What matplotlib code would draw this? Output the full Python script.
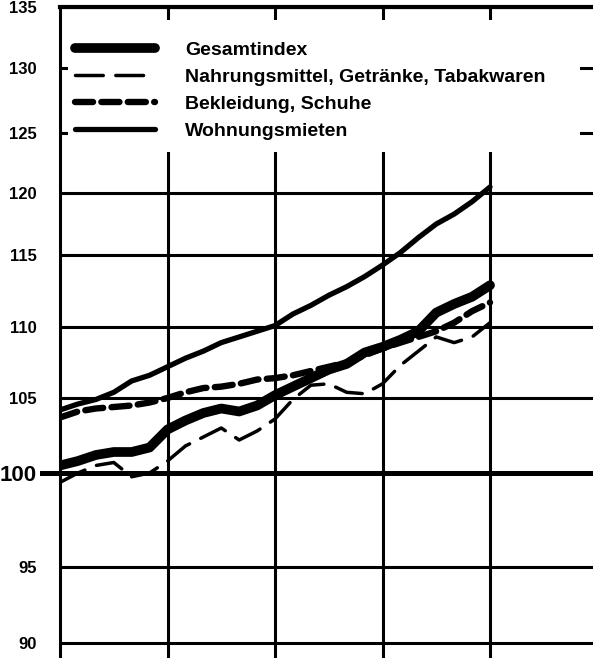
import numpy as np
import matplotlib.pyplot as plt
from matplotlib.patches import Rectangle

plt.rcParams['font.family'] = ['Liberation Sans', 'DejaVu Sans']
plt.rcParams['font.weight'] = 'bold'
plt.rcParams['lines.scale_dashes'] = False

monate = list(range(0, 49, 2))

gesamtindex = [100.5, 100.8, 101.2, 101.4, 101.4, 101.7, 102.9, 103.5, 104.0, 104.3,
               104.1, 104.5, 105.2, 105.8, 106.4, 107.0, 107.4, 108.2, 108.6, 109.1,
               109.7, 111.0, 111.6, 112.1, 112.9]
nahrung = [99.5, 100.0, 100.5, 100.7, 99.8, 100.0, 100.8, 101.8, 102.4, 103.0,
           102.2, 102.8, 103.6, 104.9, 105.9, 106.0, 105.4, 105.3, 106.0, 107.3,
           108.3, 109.3, 108.9, 109.3, 110.3]
bekleidung = [103.7, 104.1, 104.3, 104.4, 104.5, 104.7, 105.0, 105.4, 105.7, 105.8,
              106.0, 106.3, 106.4, 106.6, 106.9, 107.2, 107.5, 108.0, 108.5, 108.9,
              109.3, 109.7, 110.3, 111.1, 111.7]
mieten = [104.2, 104.6, 104.9, 105.4, 106.2, 106.6, 107.2, 107.8, 108.3, 108.9,
          109.3, 109.7, 110.1, 110.9, 111.5, 112.2, 112.8, 113.5, 114.3, 115.2,
          116.4, 117.5, 118.3, 119.3, 120.5]

labels = ["Gesamtindex", "Nahrungsmittel, Getränke, Tabakwaren",
          "Bekleidung, Schuhe", "Wohnungsmieten"]
yticks = [90, 95, 100, 105, 110, 115, 120, 125, 130, 135]

# ungleichmaessige Skala der Vorlage (Wert -> Hoehe)
skala_wert = np.array([89.0, 90, 95, 100, 105, 110, 115, 120, 125, 130, 135])
skala_hoehe = np.array([0, 15, 91, 185, 260, 331, 403, 465, 525, 590, 651], dtype=float)

def fwd(v):
    return np.interp(v, skala_wert, skala_hoehe)

def inv(h):
    return np.interp(h, skala_hoehe, skala_wert)

x = np.array(monate) / 12

fig = plt.figure(figsize=(5.93, 6.58), dpi=100)
ax = fig.add_axes([60 / 593, 0, 533 / 593, 651 / 658])
ax.set_yscale('function', functions=(fwd, inv))
ax.set_ylim(89.0, 135)
ax.set_xlim(0, 533 / 107.5)

ax.plot(x, mieten, color='black', lw=3.8, solid_capstyle='round', zorder=3)
ax.plot(x, bekleidung, color='black', lw=4.6, dashes=(13, 6),
        dash_capstyle='round', zorder=3)
ax.plot(x, nahrung, color='black', lw=2.5, dashes=(20, 9),
        dash_capstyle='round', zorder=3)
ax.plot(x, gesamtindex, color='black', lw=7, solid_capstyle='round',
        solid_joinstyle='round', zorder=4)

ax.set_xticks([1, 2, 3, 4])
ax.set_yticks(yticks)
ax.grid(True, color='black', lw=2.2)
ax.set_axisbelow(True)
ax.axhline(100, xmin=-18 / 533, xmax=1, color='black', lw=3.6, clip_on=False, zorder=1.6)

ax.tick_params(axis='x', length=0, labelbottom=False)
ax.tick_params(axis='y', length=0, pad=17, labelsize=12)
for t in ax.get_yticklabels():
    t.set_fontweight('bold')
    if t.get_text() == '100':
        t.set_fontsize(16)

for s in ['right', 'bottom']:
    ax.spines[s].set_visible(False)
ax.spines['left'].set_linewidth(2.2)
ax.spines['top'].set_linewidth(3.0)

# weisser Kasten hinter der Legende
ax.add_patch(Rectangle((8 / 533, 1 - 145 / 651), 512 / 533, 132 / 651,
                       transform=ax.transAxes, facecolor='white', edgecolor='none',
                       zorder=2.5))

handles = ax.get_lines()[:4]
order = [3, 2, 1, 0]
leg = ax.legend([handles[i] for i in order], labels, loc='upper left',
                bbox_to_anchor=(75 / 593, 1 - 41 / 658), bbox_transform=fig.transFigure,
                frameon=False, fontsize=14, handlelength=4.1, handletextpad=1.55,
                labelspacing=0.49, borderpad=0, borderaxespad=0)
for t in leg.get_texts():
    t.set_fontweight('bold')

fig.savefig("out.png", dpi=100)
